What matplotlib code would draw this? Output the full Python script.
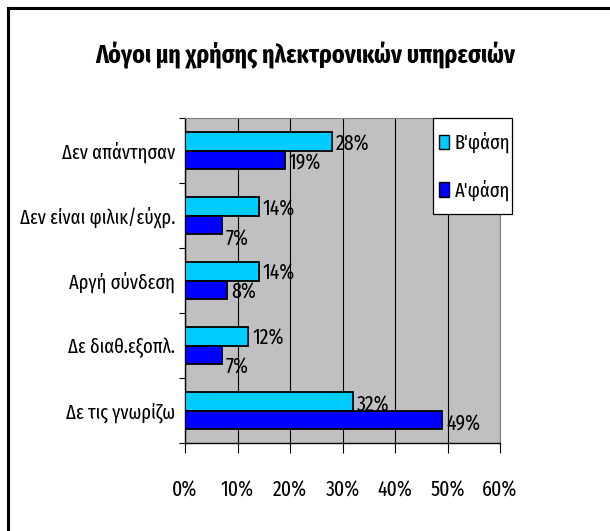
import matplotlib
matplotlib.use("Agg")
import matplotlib.pyplot as plt
from matplotlib.patches import Patch, Rectangle
from matplotlib.lines import Line2D
import numpy as np

plt.rcParams['font.family'] = ['Fira Sans Extra Condensed', 'Fira Sans Condensed', 'DejaVu Sans']

title = "Λόγοι μη χρήσης ηλεκτρονικών υπηρεσιών"
categories = ["Δεν απάντησαν", "Δεν είναι φιλικ/εύχρ.", "Αργή σύνδεση",
              "Δε διαθ.εξοπλ.", "Δε τις γνωρίζω"]
phase_b = [28, 14, 14, 12, 32]
phase_a = [19, 7, 8, 7, 49]
series_names = ["Β'φάση", "Α'φάση"]
x_ticks = [0, 10, 20, 30, 40, 50, 60]

# label vertical offsets in pixels (style only)
a_label_dy = [3, 14, 2, 12, 4]
b_label_dy = [3, 3, 2, 2, 4]

col_b = "#00CCFF"
col_a = "#0000FF"
FS_CAT = 14.5
FS_NUM = 15.5
FS_LEG = 14.5

W, H = 610, 531
fig = plt.figure(figsize=(W / 100, H / 100), dpi=100)
fig.patch.set_facecolor("white")

# frame lines (top and left visible)
fig.add_artist(Line2D([8 / W, 8 / W], [0, 1 - 8 / H], transform=fig.transFigure,
                      color="black", lw=2.2))
fig.add_artist(Line2D([8 / W, 1], [1 - 8 / H, 1 - 8 / H], transform=fig.transFigure,
                      color="black", lw=2.2))

left, right, top, bottom = 185, 500, 118, 443
ax = fig.add_axes([left / W, 1 - bottom / H, (right - left) / W, (bottom - top) / H])
ax.set_facecolor("#C0C0C0")

n = len(categories)
y = np.arange(n)[::-1].astype(float)
h = 0.29
ax.barh(y + h / 2, phase_b, height=h, color=col_b, edgecolor="black", linewidth=1.3,
        label=series_names[0], zorder=3)
ax.barh(y - h / 2, phase_a, height=h, color=col_a, edgecolor="black", linewidth=1.3,
        label=series_names[1], zorder=3)

for i in range(n):
    ax.annotate(f"{phase_b[i]}%", (phase_b[i], y[i] + h / 2), xytext=(3.0, -b_label_dy[i] * 0.72),
                textcoords="offset points", va="center", ha="left", fontsize=FS_NUM, zorder=4)
    ax.annotate(f"{phase_a[i]}%", (phase_a[i], y[i] - h / 2), xytext=(3.0, -a_label_dy[i] * 0.72),
                textcoords="offset points", va="center", ha="left", fontsize=FS_NUM, zorder=4)

ax.set_xlim(0, 60)
ax.set_ylim(-0.5, n - 0.5)
ax.set_xticks(x_ticks)
ax.set_xticklabels([f"{t}%" for t in x_ticks], fontsize=FS_NUM)
ax.xaxis.grid(True, color="black", linewidth=0.8, zorder=1)
ax.set_axisbelow(True)
ax.tick_params(axis="x", direction="out", length=7.5, width=0.8, pad=19)

ax.set_yticks(y)
ax.set_yticklabels(categories, fontsize=FS_CAT)
ax.set_yticks(np.arange(n + 1) - 0.5, minor=True)
ax.tick_params(axis="y", which="major", length=0, pad=7)
ax.tick_params(axis="y", which="minor", direction="out", length=4, width=0.8)

for s in ["top", "right"]:
    ax.spines[s].set_color("#808080")
    ax.spines[s].set_linewidth(0.8)
for s in ["left", "bottom"]:
    ax.spines[s].set_color("black")
    ax.spines[s].set_linewidth(1.0)

# legend box
fig.add_artist(Rectangle((433 / W, 1 - 214 / H), 79 / W, 96 / H, transform=fig.transFigure,
                         facecolor="white", edgecolor="black", linewidth=0.9, zorder=5))
handles = [Patch(facecolor=col_b, edgecolor="black", linewidth=1.0),
           Patch(facecolor=col_a, edgecolor="black", linewidth=1.0)]
leg = fig.legend(handles, series_names, loc="center left",
                 bbox_to_anchor=(439 / W, 1 - 166.5 / H), fontsize=FS_LEG,
                 frameon=False, borderaxespad=0, borderpad=0,
                 handlelength=0.48, handleheight=0.72,
                 handletextpad=0.3, labelspacing=1.3)
leg.set_zorder(6)

fig.text(0.5, 1 - 55 / H, title, ha="center", va="center", fontsize=18.7, fontweight="bold")

fig.savefig("out.png", dpi=100)
